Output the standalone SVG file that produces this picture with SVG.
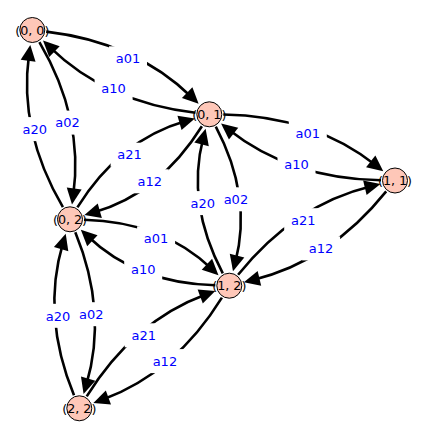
<svg xmlns="http://www.w3.org/2000/svg" width="425" height="439" viewBox="0 0 425 439">
<style>
.e{fill:none;stroke:#000;stroke-width:2.6;marker-end:url(#ah)}
.bg{fill:#fff}
.lt{font-family:"DejaVu Sans",sans-serif;font-size:13px;fill:#0000ff;text-anchor:middle}
.n circle{fill:#fec7b8;stroke:#000;stroke-width:1}
.n text{font-family:"DejaVu Sans",sans-serif;font-size:12.7px;fill:#000;text-anchor:middle}
</style>
<defs>
<marker id="ah" markerUnits="userSpaceOnUse" markerWidth="40" markerHeight="40" viewBox="-20 -20 40 40" refX="0" refY="0" orient="auto" overflow="visible">
<path d="M9.5,0 L-6.5,-7.5 L-6.5,7.5 Z" fill="#000"/>
</marker>
</defs>
<rect width="425" height="439" fill="#fff"/>
<g id="connectors">
<path class="e" d="M46.2,31.6 Q135.2,42.0 191.8,97.2"/>
<path class="e" d="M195.4,112.7 Q106.4,102.3 49.8,47.1"/>
<path class="e" d="M223.3,114.5 Q313.4,115.9 375.8,165.3"/>
<path class="e" d="M381,180.3 Q290.9,178.9 228.5,129.5"/>
<path class="e" d="M39.4,42.1 Q83.9,118.1 73.3,195.0"/>
<path class="e" d="M62.9,207.2 Q18.4,131.2 29.0,54.3"/>
<path class="e" d="M77.4,207.4 Q119.5,140.1 185.75,121.1"/>
<path class="e" d="M201.9,126.2 Q159.8,193.5 93.55,212.5"/>
<path class="e" d="M215.8,126.7 Q252.5,196.1 235.4,262.0"/>
<path class="e" d="M222.8,273.3 Q186.1,203.9 203.2,138.0"/>
<path class="e" d="M238.1,274.8 Q294.25,204.9 371.2,186.3"/>
<path class="e" d="M386.2,191.4 Q330.05,261.3 253.1,279.9"/>
<path class="e" d="M84.0,219.7 Q162.5,221.7 211.6,268.75"/>
<path class="e" d="M215.3,285.3 Q136.8,283.3 87.7,236.25"/>
<path class="e" d="M75.3,232.3 Q108.0,312.2 86.3,384.8"/>
<path class="e" d="M74.0,395.35 Q41.3,315.4 63.0,242.8"/>
<path class="e" d="M86.7,396.4 Q133.2,321.1 206.3,294.2"/>
<path class="e" d="M221.9,297.6 Q175.4,372.9 102.3,399.8"/>
<g id="edge-labels">
<rect class="bg" x="109" y="46.3" width="38" height="24"/><text class="lt" x="128" y="63">a01</text>
<rect class="bg" x="94.6" y="76.4" width="38" height="24"/><text class="lt" x="113.6" y="93.1">a10</text>
<rect class="bg" x="288.8" y="120.9" width="38" height="24"/><text class="lt" x="307.8" y="137.6">a01</text>
<rect class="bg" x="277.5" y="152.3" width="38" height="24"/><text class="lt" x="296.5" y="169">a10</text>
<rect class="bg" x="48.5" y="110.6" width="38" height="24"/><text class="lt" x="67.5" y="127.3">a02</text>
<rect class="bg" x="15.8" y="117.1" width="38" height="24"/><text class="lt" x="34.8" y="133.8">a20</text>
<rect class="bg" x="110.6" y="142.7" width="38" height="24"/><text class="lt" x="129.6" y="159.4">a21</text>
<rect class="bg" x="130.7" y="169.3" width="38" height="24"/><text class="lt" x="149.7" y="186">a12</text>
<rect class="bg" x="216.9" y="187.3" width="38" height="24"/><text class="lt" x="235.9" y="204">a02</text>
<rect class="bg" x="183.7" y="191.1" width="38" height="24"/><text class="lt" x="202.7" y="207.8">a20</text>
<rect class="bg" x="284.2" y="208.2" width="38" height="24"/><text class="lt" x="303.2" y="224.9">a21</text>
<rect class="bg" x="302.1" y="236.4" width="38" height="24"/><text class="lt" x="321.1" y="253.1">a12</text>
<rect class="bg" x="137.1" y="226.3" width="38" height="24"/><text class="lt" x="156.1" y="243">a01</text>
<rect class="bg" x="124.2" y="257.1" width="38" height="24"/><text class="lt" x="143.2" y="273.8">a10</text>
<rect class="bg" x="72.3" y="302.2" width="38" height="24"/><text class="lt" x="91.3" y="318.9">a02</text>
<rect class="bg" x="39" y="303.8" width="38" height="24"/><text class="lt" x="58" y="320.5">a20</text>
<rect class="bg" x="124.7" y="323.3" width="38" height="24"/><text class="lt" x="143.7" y="340">a21</text>
<rect class="bg" x="145.9" y="349.1" width="38" height="24"/><text class="lt" x="164.9" y="365.8">a12</text>
</g>
</g>
<g id="n00" class="n"><circle cx="32.3" cy="30" r="12.5"/><text x="32.3" y="34.6">(0, 0)</text></g>
<g id="n01" class="n"><circle cx="209.3" cy="114.3" r="12.5"/><text x="209.3" y="118.9">(0, 1)</text></g>
<g id="n11" class="n"><circle cx="395" cy="180.5" r="12.5"/><text x="395" y="185.1">(1, 1)</text></g>
<g id="n02" class="n"><circle cx="70" cy="219.3" r="12.5"/><text x="70" y="223.9">(0, 2)</text></g>
<g id="n12" class="n"><circle cx="229.3" cy="285.7" r="12.5"/><text x="229.3" y="290.3">(1, 2)</text></g>
<g id="n22" class="n"><circle cx="79.3" cy="408.3" r="12.5"/><text x="79.3" y="412.9">(2, 2)</text></g>
</svg>
